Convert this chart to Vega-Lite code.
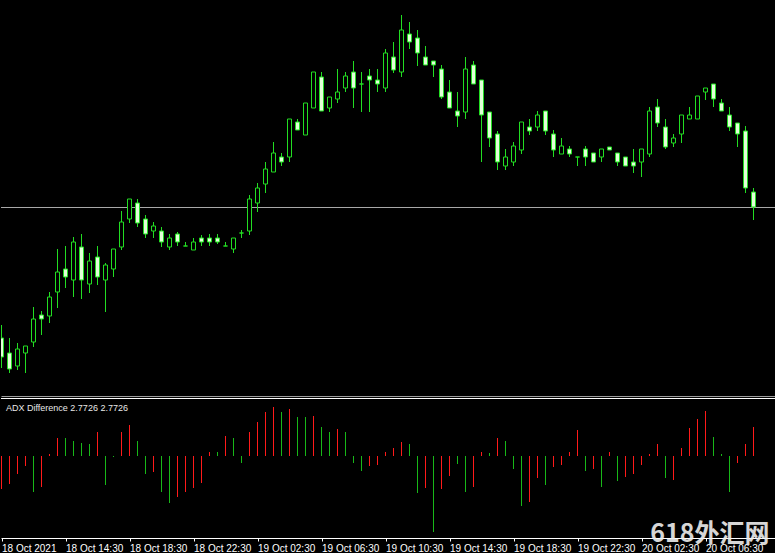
{
  "$schema": "https://vega.github.io/schema/vega-lite/v6.json",
  "background": "#000000",
  "padding": 0,
  "spacing": 2,
  "bounds": "flush",
  "config": {"view": {"stroke": null}, "font": "Liberation Sans", "scale": {"continuousPadding": 0}},
  "datasets": {
    "candles": [
      {"i":0,"o":62,"h":75,"l":32,"c":43},{"i":1,"o":47,"h":62,"l":27,"c":31},{"i":2,"o":34,"h":57,"l":30,"c":51},{"i":3,"o":47,"h":54,"l":27,"c":54},
      {"i":4,"o":58,"h":93,"l":53,"c":81},{"i":5,"o":85,"h":89,"l":65,"c":81},{"i":6,"o":84,"h":108,"l":77,"c":103},{"i":7,"o":108,"h":151,"l":92,"c":128},
      {"i":8,"o":131,"h":154,"l":112,"c":123},{"i":9,"o":120,"h":163,"l":103,"c":158},{"i":10,"o":153,"h":166,"l":101,"c":120},{"i":11,"o":116,"h":147,"l":107,"c":139},
      {"i":12,"o":143,"h":154,"l":115,"c":123},{"i":13,"o":120,"h":137,"l":88,"c":135},{"i":14,"o":131,"h":151,"l":123,"c":151},{"i":15,"o":153,"h":189,"l":150,"c":178},
      {"i":16,"o":181,"h":201,"l":177,"c":201},{"i":17,"o":197,"h":201,"l":173,"c":177},{"i":18,"o":181,"h":185,"l":162,"c":166},{"i":19,"o":169,"h":178,"l":162,"c":174},
      {"i":20,"o":169,"h":173,"l":153,"c":158},{"i":21,"o":153,"h":166,"l":150,"c":162},{"i":22,"o":166,"h":168,"l":154,"c":158},{"i":23,"o":154,"h":158,"l":154,"c":154},
      {"i":24,"o":150,"h":162,"l":150,"c":158},{"i":25,"o":162,"h":165,"l":154,"c":158},{"i":26,"o":162,"h":166,"l":154,"c":158},{"i":27,"o":162,"h":166,"l":156,"c":158},
      {"i":28,"o":154,"h":158,"l":154,"c":154},{"i":29,"o":151,"h":162,"l":147,"c":162},{"i":30,"o":167,"h":170,"l":162,"c":167},{"i":31,"o":169,"h":205,"l":165,"c":201},
      {"i":32,"o":197,"h":217,"l":188,"c":212},{"i":33,"o":216,"h":238,"l":207,"c":231},{"i":34,"o":228,"h":258,"l":228,"c":247},{"i":35,"o":243,"h":247,"l":234,"c":238},
      {"i":36,"o":243,"h":281,"l":238,"c":281},{"i":37,"o":278,"h":281,"l":270,"c":270},{"i":38,"o":265,"h":297,"l":265,"c":297},{"i":39,"o":292,"h":328,"l":292,"c":328},
      {"i":40,"o":323,"h":328,"l":289,"c":289},{"i":41,"o":292,"h":303,"l":288,"c":303},{"i":42,"o":301,"h":331,"l":297,"c":308},{"i":43,"o":312,"h":328,"l":308,"c":324},
      {"i":44,"o":328,"h":339,"l":292,"c":312},{"i":45,"o":316,"h":328,"l":288,"c":316},{"i":46,"o":324,"h":331,"l":288,"c":320},{"i":47,"o":320,"h":331,"l":308,"c":316},
      {"i":48,"o":312,"h":351,"l":308,"c":347},{"i":49,"o":343,"h":358,"l":327,"c":330},{"i":50,"o":328,"h":385,"l":323,"c":370},{"i":51,"o":366,"h":378,"l":351,"c":358},
      {"i":52,"o":362,"h":370,"l":334,"c":347},{"i":53,"o":343,"h":354,"l":335,"c":335},{"i":54,"o":339,"h":339,"l":323,"c":335},{"i":55,"o":331,"h":335,"l":301,"c":303},
      {"i":56,"o":308,"h":320,"l":292,"c":292},{"i":57,"o":289,"h":308,"l":273,"c":284},{"i":58,"o":288,"h":343,"l":281,"c":331},{"i":59,"o":335,"h":339,"l":316,"c":316},
      {"i":60,"o":320,"h":320,"l":238,"c":285},{"i":61,"o":288,"h":288,"l":253,"c":262},{"i":62,"o":266,"h":269,"l":230,"c":238},{"i":63,"o":234,"h":251,"l":230,"c":243},
      {"i":64,"o":238,"h":258,"l":234,"c":254},{"i":65,"o":250,"h":278,"l":246,"c":278},{"i":66,"o":273,"h":281,"l":265,"c":269},{"i":67,"o":273,"h":289,"l":269,"c":285},
      {"i":68,"o":289,"h":289,"l":265,"c":269},{"i":69,"o":266,"h":270,"l":243,"c":250},{"i":70,"o":246,"h":262,"l":246,"c":254},{"i":71,"o":251,"h":254,"l":243,"c":246},
      {"i":72,"o":243,"h":243,"l":234,"c":243},{"i":73,"o":251,"h":254,"l":234,"c":243},{"i":74,"o":247,"h":247,"l":238,"c":238},{"i":75,"o":243,"h":251,"l":238,"c":251},
      {"i":76,"o":253,"h":253,"l":250,"c":250},{"i":77,"o":247,"h":247,"l":234,"c":238},{"i":78,"o":243,"h":243,"l":234,"c":234},{"i":79,"o":238,"h":251,"l":227,"c":234},
      {"i":80,"o":238,"h":251,"l":223,"c":251},{"i":81,"o":246,"h":293,"l":243,"c":289},{"i":82,"o":293,"h":301,"l":273,"c":277},{"i":83,"o":273,"h":281,"l":251,"c":253},
      {"i":84,"o":257,"h":266,"l":253,"c":262},{"i":85,"o":266,"h":285,"l":257,"c":285},{"i":86,"o":281,"h":293,"l":281,"c":285},{"i":87,"o":281,"h":304,"l":281,"c":304},
      {"i":88,"o":308,"h":312,"l":300,"c":312},{"i":89,"o":316,"h":316,"l":293,"c":301},{"i":90,"o":297,"h":301,"l":289,"c":289},{"i":91,"o":285,"h":293,"l":269,"c":273},
      {"i":92,"o":277,"h":277,"l":253,"c":266},{"i":93,"o":269,"h":274,"l":207,"c":212},{"i":94,"o":208,"h":212,"l":180,"c":193}
    ],
    "adx": [
      {"i":0,"v":-3.16,"t":"down"},{"i":1,"v":-2.68,"t":"down"},{"i":2,"v":-1.72,"t":"down"},{"i":3,"v":-0.96,"t":"down"},{"i":4,"v":-3.44,"t":"up"},
      {"i":5,"v":-2.96,"t":"down"},{"i":6,"v":0.19,"t":"down"},{"i":7,"v":1.72,"t":"down"},{"i":8,"v":1.72,"t":"up"},{"i":9,"v":1.43,"t":"up"},
      {"i":10,"v":1.24,"t":"up"},{"i":11,"v":1.15,"t":"up"},{"i":12,"v":2.29,"t":"down"},{"i":13,"v":-2.77,"t":"up"},{"i":14,"v":-0.1,"t":"up"},
      {"i":15,"v":2.29,"t":"down"},{"i":16,"v":2.96,"t":"down"},{"i":17,"v":1.43,"t":"up"},{"i":18,"v":-1.72,"t":"up"},{"i":19,"v":-1.53,"t":"down"},
      {"i":20,"v":-3.44,"t":"up"},{"i":21,"v":-4.49,"t":"up"},{"i":22,"v":-3.92,"t":"down"},{"i":23,"v":-3.44,"t":"down"},{"i":24,"v":-3.06,"t":"down"},
      {"i":25,"v":-2.58,"t":"down"},{"i":26,"v":0.38,"t":"down"},{"i":27,"v":0.38,"t":"up"},{"i":28,"v":1.91,"t":"down"},{"i":29,"v":1.72,"t":"up"},
      {"i":30,"v":-0.67,"t":"up"},{"i":31,"v":2.29,"t":"down"},{"i":32,"v":3.25,"t":"down"},{"i":33,"v":4.21,"t":"down"},{"i":34,"v":4.68,"t":"down"},
      {"i":35,"v":4.21,"t":"up"},{"i":36,"v":4.49,"t":"down"},{"i":37,"v":3.73,"t":"up"},{"i":38,"v":3.73,"t":"up"},{"i":39,"v":3.82,"t":"down"},
      {"i":40,"v":2.77,"t":"up"},{"i":41,"v":2.29,"t":"up"},{"i":42,"v":2.58,"t":"down"},{"i":43,"v":2.29,"t":"up"},{"i":44,"v":-0.67,"t":"up"},
      {"i":45,"v":-1.43,"t":"up"},{"i":46,"v":-0.96,"t":"down"},{"i":47,"v":-0.86,"t":"down"},{"i":48,"v":0.38,"t":"down"},{"i":49,"v":0.76,"t":"down"},
      {"i":50,"v":1.34,"t":"down"},{"i":51,"v":1.15,"t":"up"},{"i":52,"v":-3.54,"t":"up"},{"i":53,"v":-3.06,"t":"down"},{"i":54,"v":-7.27,"t":"up"},
      {"i":55,"v":-3.16,"t":"down"},{"i":56,"v":-1.91,"t":"down"},{"i":57,"v":-0.76,"t":"up"},{"i":58,"v":-3.44,"t":"up"},{"i":59,"v":-2.96,"t":"down"},
      {"i":60,"v":0.38,"t":"down"},{"i":61,"v":0.29,"t":"up"},{"i":62,"v":1.72,"t":"down"},{"i":63,"v":1.43,"t":"up"},{"i":64,"v":-1.24,"t":"up"},
      {"i":65,"v":-4.78,"t":"up"},{"i":66,"v":-4.4,"t":"down"},{"i":67,"v":-2.1,"t":"down"},{"i":68,"v":-2.77,"t":"up"},{"i":69,"v":-1.05,"t":"down"},
      {"i":70,"v":-0.86,"t":"down"},{"i":71,"v":0.38,"t":"down"},{"i":72,"v":2.49,"t":"down"},{"i":73,"v":-1.43,"t":"up"},{"i":74,"v":-1.24,"t":"down"},
      {"i":75,"v":-2.96,"t":"up"},{"i":76,"v":0.38,"t":"down"},{"i":77,"v":-2.39,"t":"up"},{"i":78,"v":-2.01,"t":"down"},{"i":79,"v":-1.72,"t":"down"},
      {"i":80,"v":-0.86,"t":"down"},{"i":81,"v":0.19,"t":"down"},{"i":82,"v":1.15,"t":"down"},{"i":83,"v":-2.1,"t":"up"},{"i":84,"v":-2.29,"t":"down"},
      {"i":85,"v":0.76,"t":"down"},{"i":86,"v":2.68,"t":"down"},{"i":87,"v":3.54,"t":"down"},{"i":88,"v":4.3,"t":"down"},{"i":89,"v":1.82,"t":"up"},
      {"i":90,"v":0.19,"t":"up"},{"i":91,"v":-3.44,"t":"up"},{"i":92,"v":-0.67,"t":"down"},{"i":93,"v":1.15,"t":"down"},{"i":94,"v":2.7726,"t":"down"}
    ]
  },
  "vconcat": [
    {
      "width": 775,
      "height": 396,
      "layer": [
        {
          "data": {"values": [{"level": 192.5}]},
          "mark": {"type": "rule", "color": "#a8a8a8", "strokeWidth": 1},
          "encoding": {"y": {"field": "level", "type": "quantitative", "scale": {"domain": [4, 400], "nice": false, "zero": false, "padding": 0}, "axis": null}}
        },
        {
          "data": {"name": "candles"},
          "mark": {"type": "rule", "color": "#22dd22", "strokeWidth": 1, "clip": true},
          "encoding": {
            "x": {"field": "i", "type": "quantitative",
                  "scale": {"domain": [-0.0625, 96.8125], "nice": false, "zero": false, "padding": 0},
                  "axis": {"labels": false, "ticks": false, "grid": false, "title": null, "domain": true, "domainColor": "#9c9c9c", "minExtent": 0, "maxExtent": 0}},
            "y": {"field": "l", "type": "quantitative", "axis": null},
            "y2": {"field": "h"}
          }
        },
        {
          "data": {"name": "candles"},
          "mark": {"type": "bar", "width": 4, "stroke": "#22dd22", "strokeWidth": 1, "clip": true},
          "encoding": {
            "x": {"field": "i", "type": "quantitative"},
            "y": {"field": "o", "type": "quantitative", "axis": null},
            "y2": {"field": "c"},
            "fill": {"condition": {"test": "datum.c > datum.o", "value": "#000000"}, "value": "#e2ffd8"}
          }
        }
      ]
    },
    {
      "width": 775,
      "height": 140,
      "layer": [
        {
          "data": {"name": "adx"},
          "mark": {"type": "bar", "width": 1, "strokeWidth": 0},
          "encoding": {
            "x": {"field": "i", "type": "quantitative",
                  "scale": {"domain": [-0.0625, 96.8125], "nice": false, "zero": false, "padding": 0},
                  "axis": {"values": [0, 8, 16, 24, 32, 40, 48, 56, 64, 72, 80, 88],
                           "labelExpr": "['18 Oct 2021','18 Oct 14:30','18 Oct 18:30','18 Oct 22:30','19 Oct 02:30','19 Oct 06:30','19 Oct 10:30','19 Oct 14:30','19 Oct 18:30','19 Oct 22:30','20 Oct 02:30','20 Oct 06:30'][round(datum.value / 8)]",
                           "grid": false, "title": null, "domainColor": "#ffffff", "tickColor": "#ffffff", "tickSize": 3,
                           "labelColor": "#ffffff", "labelFont": "Liberation Sans", "labelFontSize": 10, "labelAlign": "left", "labelBaseline": "top",
                           "labelPadding": 2, "labelOverlap": false, "labelFlush": false, "labelBound": false}},
            "y": {"field": "v", "type": "quantitative", "scale": {"domain": [-7.8398, 5.5452], "nice": false, "zero": false, "padding": 0}, "axis": null},
            "y2": {"datum": 0},
            "fill": {"field": "t", "type": "nominal", "scale": {"domain": ["down", "up"], "range": ["#ff1a1a", "#18b818"]}, "legend": null}
          }
        },
        {
          "data": {"values": [{"top": 5.4974}]},
          "mark": {"type": "rule", "color": "#ffffff", "strokeWidth": 1},
          "encoding": {"y": {"field": "top", "type": "quantitative", "axis": null}}
        },
        {
          "data": {"values": [{"i": 0, "y": 4.59, "label": "ADX Difference 2.7726 2.7726"}]},
          "mark": {"type": "text", "align": "left", "baseline": "middle", "dx": 4.5, "fontSize": 9, "font": "Liberation Sans", "color": "#e8e8e8"},
          "encoding": {"x": {"field": "i", "type": "quantitative"}, "y": {"field": "y", "type": "quantitative", "axis": null}, "text": {"field": "label"}}
        },
        {
          "data": {"values": [{"i": 96.0, "y": -8.22, "label": "618外汇网"}]},
          "mark": {"type": "text", "align": "right", "baseline": "alphabetic", "fontSize": 25, "fontWeight": "bold", "font": "Noto Sans CJK SC", "color": "#eeeeee", "opacity": 0.9},
          "encoding": {"x": {"field": "i", "type": "quantitative"}, "y": {"field": "y", "type": "quantitative", "axis": null}, "text": {"field": "label"}}
        }
      ]
    }
  ]
}
